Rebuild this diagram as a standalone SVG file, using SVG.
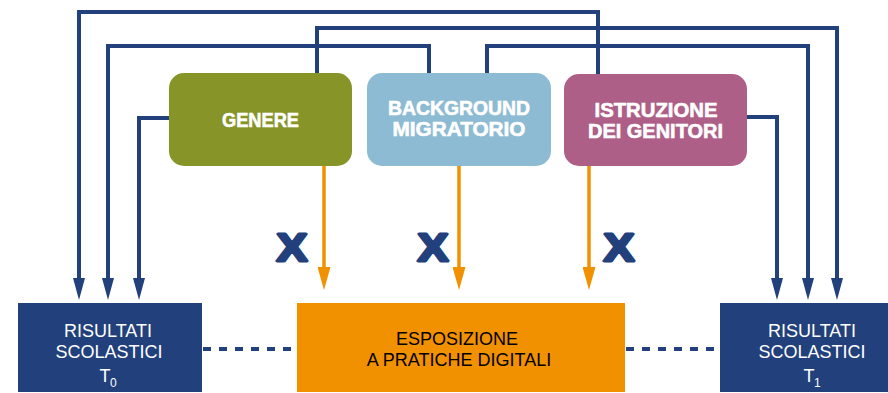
<svg xmlns="http://www.w3.org/2000/svg" width="888" height="393" viewBox="0 0 888 393">
<defs>
<style>
.ln{fill:none;stroke:#21407c;stroke-width:4}
.or{fill:none;stroke:#f29100;stroke-width:3.5}
.dash{fill:none;stroke:#21407c;stroke-width:4;stroke-dasharray:8 8}
.hd{font-family:"Liberation Sans",Arial,sans-serif;font-weight:bold;font-size:20px;fill:#fff;text-anchor:middle;stroke:#fff;stroke-width:0.6}
.bx{font-family:"Liberation Sans",Arial,sans-serif;font-size:18px;text-anchor:middle}
.x{font-family:"Liberation Sans",Arial,sans-serif;font-weight:bold;font-size:38px;fill:#21407c;stroke:#21407c;stroke-width:3;stroke-linejoin:round;text-anchor:middle}
</style>
<marker id="ab" markerUnits="userSpaceOnUse" markerWidth="22" markerHeight="12" refX="12" refY="6" orient="auto" viewBox="0 0 22 12">
<path d="M0,0 L22,6 L0,12 Z" fill="#21407c"/>
</marker>
<marker id="ao" markerUnits="userSpaceOnUse" markerWidth="23" markerHeight="13" refX="13" refY="6.5" orient="auto" viewBox="0 0 23 13">
<path d="M0,0 L23,6.5 L0,13 Z" fill="#f29100"/>
</marker>
</defs>
<g id="connectors">
<path class="ln" d="M598,74 V12 H79 V290" marker-end="url(#ab)"/>
<path class="ln" d="M317,74 V28 H837 V290" marker-end="url(#ab)"/>
<path class="ln" d="M429,74 V46 H108 V290" marker-end="url(#ab)"/>
<path class="ln" d="M487,74 V46 H808 V290" marker-end="url(#ab)"/>
<path class="ln" d="M170,118 H139 V290" marker-end="url(#ab)"/>
<path class="ln" d="M746,117 H777 V290" marker-end="url(#ab)"/>
<path class="or" d="M324,165 V280" marker-end="url(#ao)"/>
<path class="or" d="M459,165 V280" marker-end="url(#ao)"/>
<path class="or" d="M589,165 V280" marker-end="url(#ao)"/>
<path class="dash" d="M203,349 H297"/>
<path class="dash" d="M626,349 H720"/>
<g transform="translate(292,261) scale(1.2,1)"><text class="x" x="0" y="0">X</text></g>
<g transform="translate(433,261) scale(1.2,1)"><text class="x" x="0" y="0">X</text></g>
<g transform="translate(619,261) scale(1.2,1)"><text class="x" x="0" y="0">X</text></g>
</g>
<g id="genere">
<rect x="169" y="73" width="183" height="93" rx="15" fill="#879428"/>
<text class="hd" x="260.5" y="127" textLength="77" lengthAdjust="spacingAndGlyphs">GENERE</text>
</g>
<g id="background">
<rect x="367" y="73" width="184" height="93" rx="15" fill="#8dbbd3"/>
<text class="hd" x="459" y="115" textLength="142" lengthAdjust="spacingAndGlyphs">BACKGROUND</text>
<text class="hd" x="459" y="136" textLength="133" lengthAdjust="spacingAndGlyphs">MIGRATORIO</text>
</g>
<g id="istruzione">
<rect x="564" y="74" width="183" height="92" rx="15" fill="#ae5f88"/>
<text class="hd" x="656" y="117" textLength="123" lengthAdjust="spacingAndGlyphs">ISTRUZIONE</text>
<text class="hd" x="655.5" y="138" textLength="135" lengthAdjust="spacingAndGlyphs">DEI GENITORI</text>
</g>
<g id="t0">
<rect x="18" y="303" width="184" height="89" fill="#21407c"/>
<text class="bx" x="108" y="337" fill="#fff">RISULTATI</text>
<text class="bx" x="109" y="358" fill="#fff">SCOLASTICI</text>
<text class="bx" x="105" y="382" fill="#fff">T</text>
<text x="110" y="387" font-family="Liberation Sans,Arial,sans-serif" font-size="12" fill="#fff">0</text>
</g>
<g id="esposizione">
<rect x="297" y="303" width="328" height="89" fill="#f29100"/>
<text class="bx" x="457" y="345" fill="#000">ESPOSIZIONE</text>
<text class="bx" x="459" y="366" fill="#000">A PRATICHE DIGITALI</text>
</g>
<g id="t1">
<rect x="720" y="303" width="168" height="89" fill="#21407c"/>
<text class="bx" x="812" y="337" fill="#fff">RISULTATI</text>
<text class="bx" x="812" y="358" fill="#fff">SCOLASTICI</text>
<text class="bx" x="809" y="382" fill="#fff">T</text>
<text x="814" y="387" font-family="Liberation Sans,Arial,sans-serif" font-size="12" fill="#fff">1</text>
</g>
</svg>
